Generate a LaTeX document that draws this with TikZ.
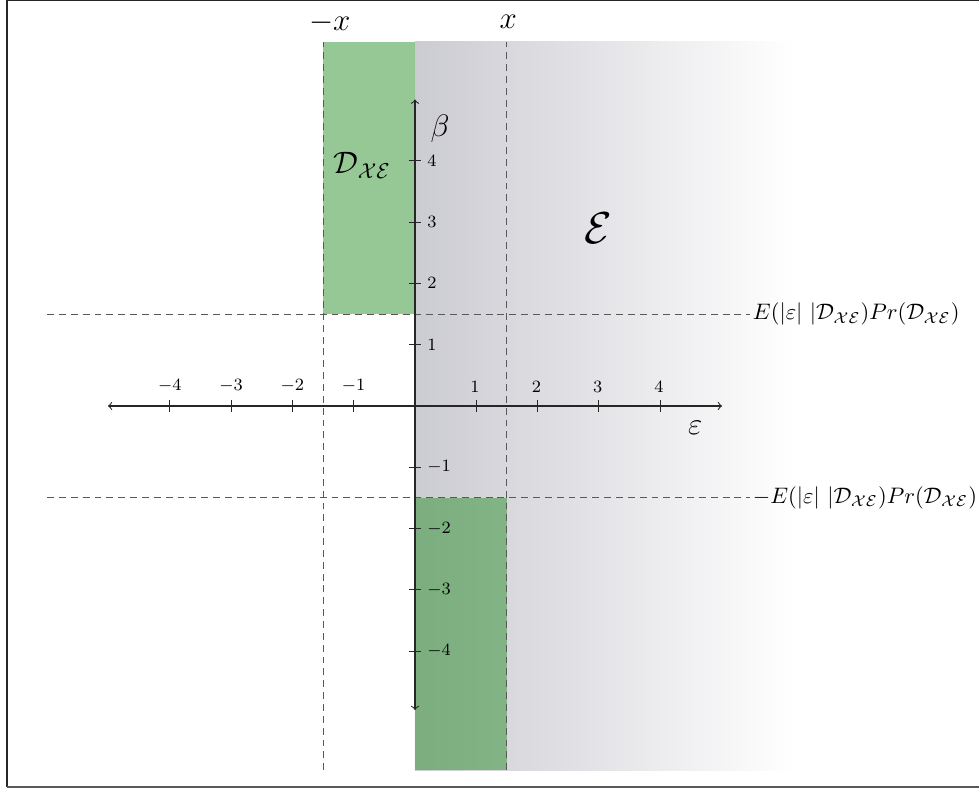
\documentclass[tikz,border=0pt]{standalone}
\usepackage{amsmath,amssymb}
\begin{document}
\begin{tikzpicture}[x=1cm,y=1cm,
  axis/.style={draw=black!85, line width=0.5pt, <->},
  dline/.style={draw=black!65, line width=0.5pt, dash pattern=on 3.2pt off 2.3pt},
  tick/.style={draw=black!85, line width=0.5pt},
  ticklab/.style={font=\footnotesize, inner sep=1pt},
  greenfill/.style={fill={rgb,255:red,45;green,145;blue,45}, fill opacity=0.5},
  biglab/.style={font=\Large, inner sep=0pt},
  rlab/.style={anchor=west, inner sep=1pt, scale=1.04}]
\definecolor{grayL}{RGB}{203,203,210}
\useasboundingbox (-6.770,-6.248) rectangle (9.201,6.623);
% frame
\draw[black!85, line width=0.8pt] (-6.656,-6.215) -- (-6.656,6.615) -- (9.25,6.615);
\draw[black!65, line width=1pt] (-6.656,-6.215) -- (9.25,-6.215);
% gray region
\shade[left color=grayL, right color=white] (0,-5.94) rectangle (6.2,5.94);
% green regions
\fill[greenfill] (-1.5,1.5) rectangle (0,5.94);
\fill[greenfill] (0,-5.94) rectangle (1.5,-1.5);
% dashed lines
\coordinate (vl0) at (-1.5,-5.94); \coordinate (vl1) at (-1.5,5.94);
\coordinate (vr0) at (1.5,-5.94); \coordinate (vr1) at (1.5,5.94);
\draw[dline] (vl0) -- (vl1);
\draw[dline] (vr0) -- (vr1);
\coordinate (hu0) at (-6.0,1.5); \coordinate (hu1) at (5.47,1.5);
\coordinate (hd0) at (-6.0,-1.5); \coordinate (hd1) at (5.47,-1.5);
\draw[dline] (hu0) -- (hu1);
\draw[dline] (hd0) -- (hd1);
\node[rlab] (lu) at (hu1) {$E(|\varepsilon|\ |\mathcal{D}_{\mathcal{X}\mathcal{E}})Pr(\mathcal{D}_{\mathcal{X}\mathcal{E}})$};
\node[rlab] (ld) at (hd1) {$-E(|\varepsilon|\ |\mathcal{D}_{\mathcal{X}\mathcal{E}})Pr(\mathcal{D}_{\mathcal{X}\mathcal{E}})$};
% axes
\coordinate (xa0) at (-5.01,0); \coordinate (xa1) at (5.01,0);
\coordinate (ya0) at (0,-4.96); \coordinate (ya1) at (0,5.0);
\draw[axis] (xa0) -- (xa1);
\draw[axis] (ya0) -- (ya1);
\foreach \i in {-4,-3,-2,-1,1,2,3,4}{
  \draw[tick] (\i,-0.1) -- (\i,0.1);
  \draw[tick] (-0.1,\i) -- (0.1,\i);
}
\foreach \i in {-4,-3,-2,-1}{
  \node[ticklab] at (\i,0.33) {$\i$};
}
\foreach \i in {1,2,3,4}{
  \node[ticklab] at (\i-0.02,0.31) {$\i$};
  \node[ticklab, anchor=west] at (0.16,\i) {$\i$};
}
\foreach \i in {-1,-2,-3,-4}{
  \node[ticklab, anchor=west] at (0.16,\i) {$\i$};
}
% labels
\node[biglab] (mx) at (-1.39,6.26) {$-x$};
\node[biglab] (px) at (1.52,6.26) {$x$};
\node[biglab] (beta) at (0.41,4.53) {$\beta$};
\node[biglab] (eps) at (4.57,-0.36) {$\varepsilon$};
\node[font=\huge, inner sep=0pt] (E) at (2.99,2.90) {$\mathcal{E}$};
\node[biglab] (D) at (-0.86,3.93) {$\mathcal{D}_{\mathcal{X}\mathcal{E}}$};
\end{tikzpicture}
\end{document}
